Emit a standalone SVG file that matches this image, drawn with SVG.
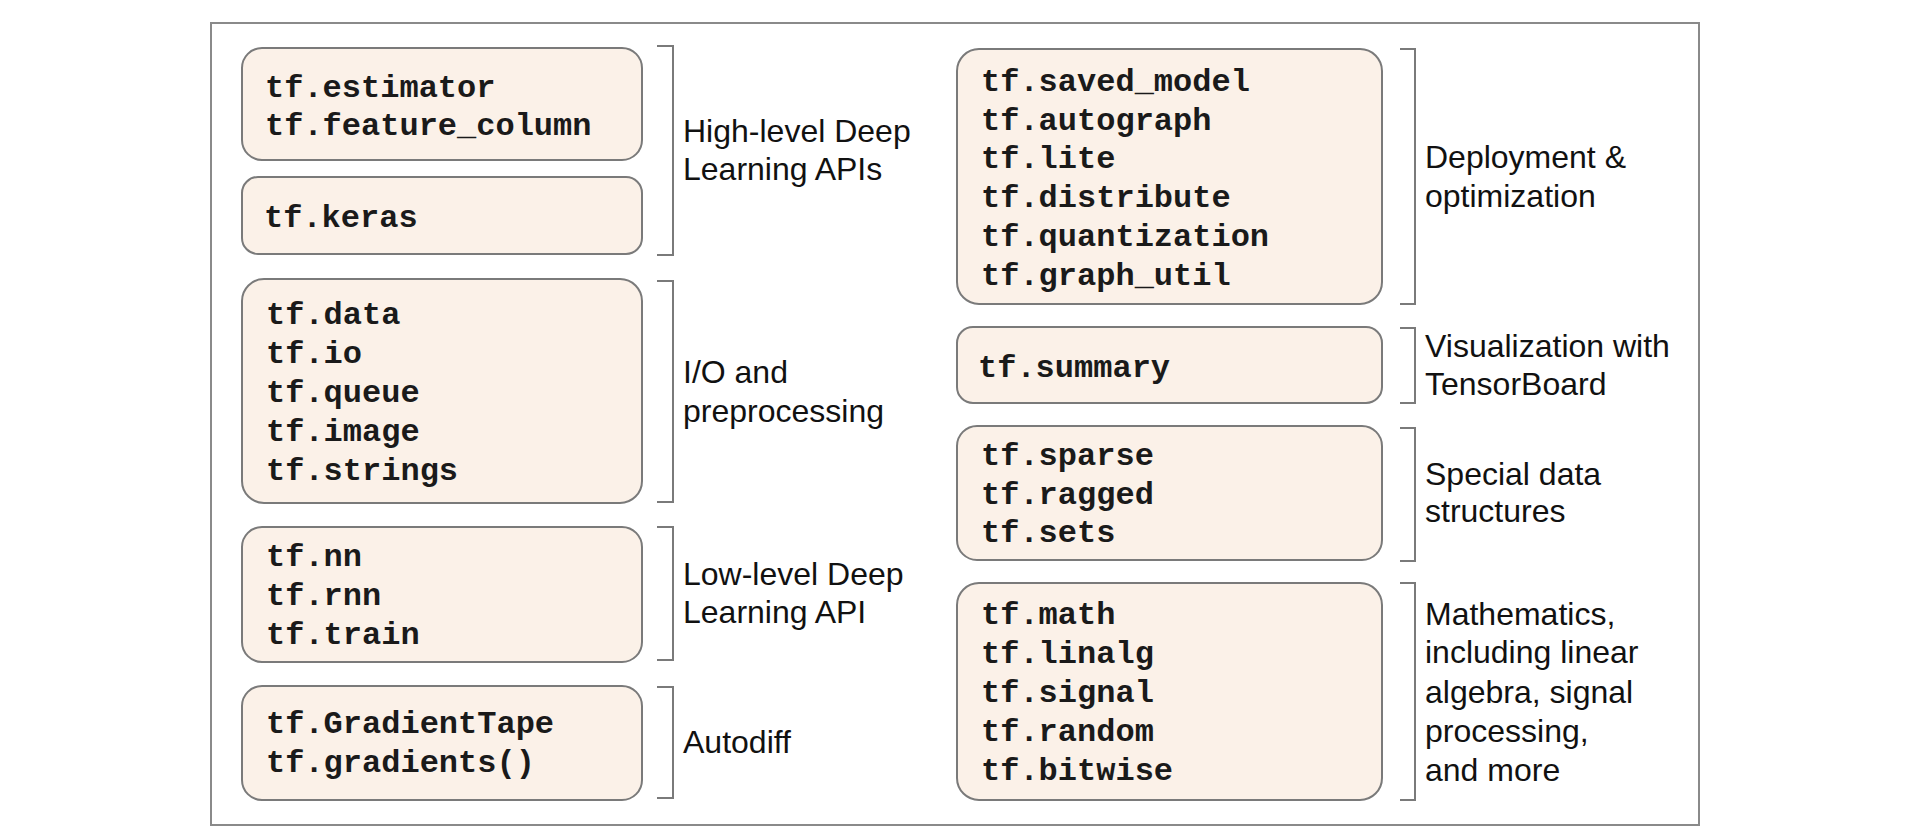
<svg xmlns="http://www.w3.org/2000/svg" width="1932" height="840" viewBox="0 0 1932 840">
<style>
.frame{fill:#ffffff;stroke:#8a8a8a;stroke-width:2}
.box{fill:#fbf1e8;stroke:#7a7a7a;stroke-width:2}
.mono{font-family:"Liberation Mono","Courier New",monospace;font-weight:bold;font-size:32px;fill:#1a1a1a}
.lbl{font-family:"Liberation Sans",Arial,sans-serif;font-size:32px;fill:#111111}
.br{fill:none;stroke:#7a7a7a;stroke-width:2}
</style>
<rect x="0" y="0" width="1932" height="840" fill="#ffffff"/>
<rect class="frame" x="211" y="23" width="1488" height="802"/>

<g id="node-estimator">
<rect class="box" x="242" y="48" width="400" height="112" rx="20"/>
<text class="mono" x="265" y="97">tf.estimator</text>
<text class="mono" x="265" y="135">tf.feature_column</text>
</g>
<g id="node-keras">
<rect class="box" x="242" y="177" width="400" height="77" rx="16"/>
<text class="mono" x="264" y="227">tf.keras</text>
</g>
<g id="node-io">
<rect class="box" x="242" y="279" width="400" height="224" rx="22"/>
<text class="mono" x="266" y="324">tf.data</text>
<text class="mono" x="266" y="363">tf.io</text>
<text class="mono" x="266" y="402">tf.queue</text>
<text class="mono" x="266" y="441">tf.image</text>
<text class="mono" x="266" y="480">tf.strings</text>
</g>
<g id="node-lowlevel">
<rect class="box" x="242" y="527" width="400" height="135" rx="20"/>
<text class="mono" x="266" y="566">tf.nn</text>
<text class="mono" x="266" y="605">tf.rnn</text>
<text class="mono" x="266" y="644">tf.train</text>
</g>
<g id="node-autodiff">
<rect class="box" x="242" y="686" width="400" height="114" rx="20"/>
<text class="mono" x="266" y="733">tf.GradientTape</text>
<text class="mono" x="266" y="772">tf.gradients()</text>
</g>

<g id="node-deployment">
<rect class="box" x="957" y="49" width="425" height="255" rx="22"/>
<text class="mono" x="981" y="91">tf.saved_model</text>
<text class="mono" x="981" y="130">tf.autograph</text>
<text class="mono" x="981" y="168">tf.lite</text>
<text class="mono" x="981" y="207">tf.distribute</text>
<text class="mono" x="981" y="246">tf.quantization</text>
<text class="mono" x="981" y="285">tf.graph_util</text>
</g>
<g id="node-summary">
<rect class="box" x="957" y="327" width="425" height="76" rx="16"/>
<text class="mono" x="978" y="377">tf.summary</text>
</g>
<g id="node-special">
<rect class="box" x="957" y="426" width="425" height="134" rx="20"/>
<text class="mono" x="981" y="465">tf.sparse</text>
<text class="mono" x="981" y="504">tf.ragged</text>
<text class="mono" x="981" y="542">tf.sets</text>
</g>
<g id="node-math">
<rect class="box" x="957" y="583" width="425" height="217" rx="22"/>
<text class="mono" x="981" y="624">tf.math</text>
<text class="mono" x="981" y="663">tf.linalg</text>
<text class="mono" x="981" y="702">tf.signal</text>
<text class="mono" x="981" y="741">tf.random</text>
<text class="mono" x="981" y="780">tf.bitwise</text>
</g>

<g id="connectors">
<path class="br" d="M657 46 H673 V255 H657"/>
<path class="br" d="M657 281 H673 V502 H657"/>
<path class="br" d="M657 527 H673 V660 H657"/>
<path class="br" d="M657 687 H673 V798 H657"/>
<path class="br" d="M1400 49 H1415 V304 H1400"/>
<path class="br" d="M1400 328 H1415 V403 H1400"/>
<path class="br" d="M1400 428 H1415 V561 H1400"/>
<path class="br" d="M1400 583 H1415 V800 H1400"/>
</g>

<g id="label-highlevel">
<text class="lbl" x="683" y="142">High-level Deep</text>
<text class="lbl" x="683" y="180">Learning APIs</text>
</g>
<g id="label-io">
<text class="lbl" x="683" y="383">I/O and</text>
<text class="lbl" x="683" y="422">preprocessing</text>
</g>
<g id="label-lowlevel">
<text class="lbl" x="683" y="585">Low-level Deep</text>
<text class="lbl" x="683" y="623">Learning API</text>
</g>
<g id="label-autodiff">
<text class="lbl" x="683" y="753">Autodiff</text>
</g>
<g id="label-deployment">
<text class="lbl" x="1425" y="168">Deployment &amp;</text>
<text class="lbl" x="1425" y="207">optimization</text>
</g>
<g id="label-visualization">
<text class="lbl" x="1425" y="357">Visualization with</text>
<text class="lbl" x="1425" y="395">TensorBoard</text>
</g>
<g id="label-special">
<text class="lbl" x="1425" y="485">Special data</text>
<text class="lbl" x="1425" y="522">structures</text>
</g>
<g id="label-math">
<text class="lbl" x="1425" y="625">Mathematics,</text>
<text class="lbl" x="1425" y="663">including linear</text>
<text class="lbl" x="1425" y="703">algebra, signal</text>
<text class="lbl" x="1425" y="742">processing,</text>
<text class="lbl" x="1425" y="781">and more</text>
</g>
</svg>
